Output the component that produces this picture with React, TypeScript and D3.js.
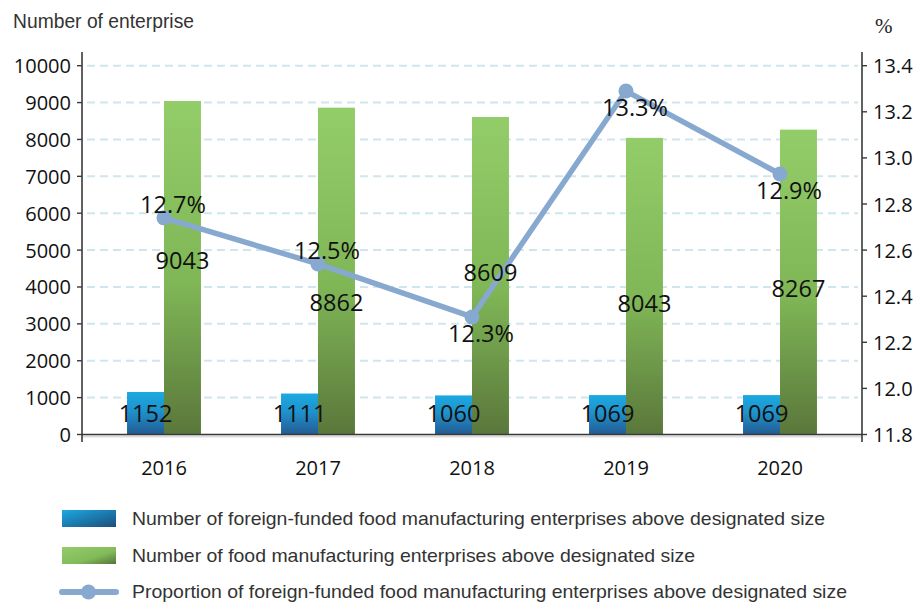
import React from "react";
import * as d3 from "d3";

const years = ["2016", "2017", "2018", "2019", "2020"];
const foreignCounts = [1152, 1111, 1060, 1069, 1069];
const totalCounts = [9043, 8862, 8609, 8043, 8267];
const proportions = [12.74, 12.54, 12.31, 13.29, 12.93];
const pctLabels = ["12.7%", "12.5%", "12.3%", "13.3%", "12.9%"];
const pctLabelSide = ["above", "above", "below", "below", "below"];
const totalLabelShift = [-8, 31, -4, 17, 6];
const leftTicks = [0, 1000, 2000, 3000, 4000, 5000, 6000, 7000, 8000, 9000, 10000];
const rightTicks = [11.8, 12.0, 12.2, 12.4, 12.6, 12.8, 13.0, 13.2, 13.4];
const legendLabels = [
  "Number of foreign-funded food manufacturing enterprises above designated size",
  "Number of food manufacturing enterprises above designated size",
  "Proportion of foreign-funded food manufacturing enterprises above designated size",
];
const legendWidths = [693, 563, 715];

const W = 919;
const H = 604;
const axisL = 82;
const axisR = 862;
const y0 = 434.5;
const yTop = 65.7;

export default function App() {
  const x = d3.scaleBand<string>().domain(years).range([87, 857]).padding(0);
  const yL = d3.scaleLinear().domain([0, 10000]).range([y0, yTop]);
  const yR = d3.scaleLinear().domain([11.8, 13.4]).range([y0, yTop]);
  const bw = x.bandwidth() * 0.24;
  const cx = (i: number) => (x(years[i]) as number) + x.bandwidth() / 2;

  const line = d3
    .line<number>()
    .x((_, i) => cx(i))
    .y((d) => yR(d));

  const numFont = "'Open Sans', 'Noto Sans', sans-serif";
  const sansFont = "'Liberation Sans', Arial, sans-serif";

  return (
    <svg
      width={W}
      height={H}
      style={{ position: "absolute", left: 0, top: 0, background: "#fff" }}
    >
      <defs>
        <linearGradient id="gBlue" x1="0" y1="0" x2="0" y2="1">
          <stop offset="0" stopColor="#1ba9e1" />
          <stop offset="0.45" stopColor="#1f92cc" />
          <stop offset="1" stopColor="#235a92" />
        </linearGradient>
        <linearGradient id="gGreen" x1="0" y1="0" x2="0" y2="1">
          <stop offset="0" stopColor="#93cd69" />
          <stop offset="0.55" stopColor="#7fb656" />
          <stop offset="1" stopColor="#5a773b" />
        </linearGradient>
        <linearGradient id="gBlueL" x1="0" y1="0" x2="1" y2="1">
          <stop offset="0" stopColor="#1ba9e1" />
          <stop offset="1" stopColor="#1d4d7c" />
        </linearGradient>
        <linearGradient id="gGreenL" x1="0" y1="0" x2="1" y2="1">
          <stop offset="0" stopColor="#93cd69" />
          <stop offset="0.6" stopColor="#82bb59" />
          <stop offset="1" stopColor="#56733a" />
        </linearGradient>
      </defs>

      {/* title */}
      <text
        x={13}
        y={28}
        fontFamily={sansFont}
        fontSize={19.5}
        fill="#333"
        textLength={181}
        lengthAdjust="spacingAndGlyphs"
      >
        Number of enterprise
      </text>
      <text x={875} y={33} fontFamily="'Liberation Serif', serif" fontSize={21} fill="#222">
        %
      </text>

      {/* gridlines */}
      {leftTicks
        .filter((t) => t > 0)
        .map((t) => (
          <line
            key={"g" + t}
            x1={87}
            x2={858}
            y1={yL(t)}
            y2={yL(t)}
            stroke="#cfe6ee"
            strokeWidth={2}
            strokeDasharray="8 5"
          />
        ))}

      {/* bars */}
      {years.map((yr, i) => (
        <g key={"b" + yr}>
          <rect
            x={cx(i) - bw}
            y={yL(foreignCounts[i])}
            width={bw}
            height={y0 - yL(foreignCounts[i])}
            fill="url(#gBlue)"
          />
          <rect
            x={cx(i)}
            y={yL(totalCounts[i])}
            width={bw}
            height={y0 - yL(totalCounts[i])}
            fill="url(#gGreen)"
          />
        </g>
      ))}

      {/* axes */}
      <line x1={axisL} x2={axisR} y1={y0 + 2} y2={y0 + 2} stroke="#bbb" strokeWidth={2} opacity={0.5} />
      <line x1={axisL} x2={axisR} y1={y0} y2={y0} stroke="#3a3a3a" strokeWidth={1.6} />
      <line x1={axisL} x2={axisL} y1={52} y2={442} stroke="#3a3a3a" strokeWidth={1.6} />
      <line x1={axisR} x2={axisR} y1={52} y2={442} stroke="#3a3a3a" strokeWidth={1.6} />
      {leftTicks.map((t) => (
        <g key={"lt" + t}>
          <line x1={axisL - 5} x2={axisL} y1={yL(t)} y2={yL(t)} stroke="#3a3a3a" strokeWidth={1.4} />
          <text
            x={71}
            y={yL(t)}
            textAnchor="end"
            dominantBaseline="central"
            fontFamily={numFont}
            fontSize={20}
            fill="#111"
          >
            {t}
          </text>
        </g>
      ))}
      {rightTicks.map((t) => (
        <g key={"rt" + t}>
          <line x1={axisR} x2={axisR + 5} y1={yR(t)} y2={yR(t)} stroke="#3a3a3a" strokeWidth={1.4} />
          <text
            x={873}
            y={yR(t)}
            dominantBaseline="central"
            fontFamily={numFont}
            fontSize={20}
            fill="#111"
          >
            {d3.format(".1f")(t)}
          </text>
        </g>
      ))}
      {years.map((yr, i) => (
        <text
          key={"xl" + yr}
          x={cx(i)}
          y={467}
          textAnchor="middle"
          dominantBaseline="central"
          fontFamily={numFont}
          fontSize={20}
          fill="#111"
        >
          {yr}
        </text>
      ))}

      {/* line */}
      <path d={line(proportions) || ""} fill="none" stroke="#88a9cf" strokeWidth={5.5} strokeLinejoin="round" />
      {proportions.map((p, i) => (
        <circle key={"c" + i} cx={cx(i)} cy={yR(p)} r={7.5} fill="#88a9cf" />
      ))}

      {/* value labels */}
      {years.map((yr, i) => (
        <g key={"lab" + yr} fontFamily={numFont} fontSize={23.5} fill="#111">
          <text
            x={cx(i) - bw / 2}
            y={413}
            textAnchor="middle"
            dominantBaseline="central"
          >
            {foreignCounts[i]}
          </text>
          <text
            x={cx(i) + bw / 2}
            y={(yL(totalCounts[i]) + y0) / 2 + totalLabelShift[i]}
            textAnchor="middle"
            dominantBaseline="central"
          >
            {totalCounts[i]}
          </text>
          <text
            x={cx(i) + 9}
            y={yR(proportions[i]) + (pctLabelSide[i] === "above" ? -14 : 16)}
            textAnchor="middle"
            dominantBaseline="central"
          >
            {pctLabels[i]}
          </text>
        </g>
      ))}

      {/* legend */}
      <rect x={62} y={510} width={54} height={17} fill="url(#gBlueL)" />
      <rect x={62} y={547} width={54} height={17} fill="url(#gGreenL)" />
      <line x1={62} x2={116} y1={592} y2={592} stroke="#88a9cf" strokeWidth={6} strokeLinecap="round" />
      <circle cx={88.5} cy={592} r={7.5} fill="#88a9cf" />
      {legendLabels.map((l, i) => (
        <text
          key={"leg" + i}
          x={132}
          y={525 + i * 36.7}
          fontFamily={sansFont}
          fontSize={18.5}
          fill="#333"
          textLength={legendWidths[i]}
          lengthAdjust="spacingAndGlyphs"
        >
          {l}
        </text>
      ))}
    </svg>
  );
}
